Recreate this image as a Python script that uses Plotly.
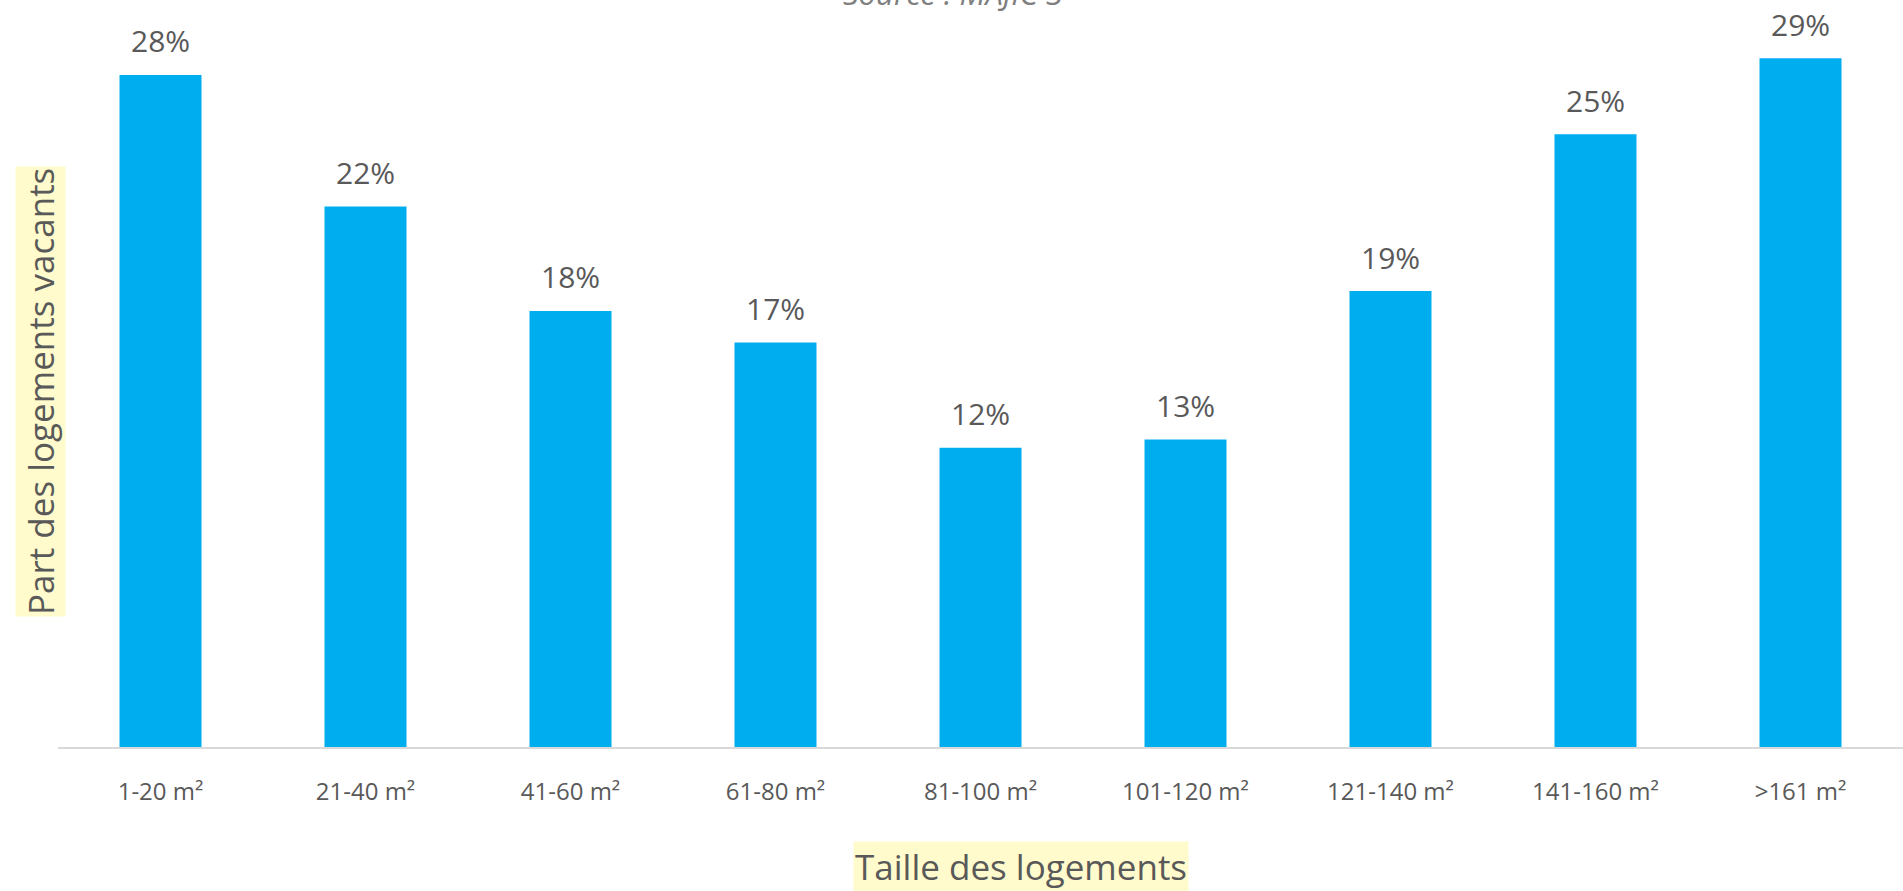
import plotly.graph_objects as go

categories = ["1-20 m²", "21-40 m²", "41-60 m²", "61-80 m²", "81-100 m²",
              "101-120 m²", "121-140 m²", "141-160 m²", ">161 m²"]
values = [27.77, 22.33, 18.02, 16.71, 12.37, 12.71, 18.84, 25.32, 28.46]
labels = ["28%", "22%", "18%", "17%", "12%", "13%", "19%", "25%", "29%"]

FONT = "Open Sans"
GREY = "#595959"

fig = go.Figure()
fig.add_trace(go.Bar(
    x=categories, y=values,
    marker=dict(color="#00AEEF", line=dict(width=0)),
    hoverinfo="skip",
))

annotations = []
for c, v, t in zip(categories, values, labels):
    annotations.append(dict(
        x=c, y=v, xref="x", yref="y", text=t, showarrow=False,
        xanchor="center", yanchor="middle", yshift=34,
        font=dict(family=FONT, size=30, color=GREY),
    ))

# y-axis title with highlight
annotations.append(dict(
    x=40, y=392, text="Part des logements vacants",
    showarrow=False, textangle=-90, bgcolor="#FFFBCC",
    xanchor="center", yanchor="middle",
    font=dict(family=FONT, size=35, color=GREY),
))
# x-axis title with highlight
annotations.append(dict(
    x=1021, y=866, text="Taille des logements", showarrow=False,
    xanchor="center", yanchor="middle",
    bgcolor="#FFFBCC", font=dict(family=FONT, size=35, color=GREY),
))
# source (partially cut at top)
annotations.append(dict(
    x=953, y=16, text="<i>Source : MAJIC 3</i>", showarrow=False,
    xanchor="center", yanchor="bottom",
    font=dict(family=FONT, size=31, color="#7f7f7f"),
))

# convert pixel-positioned annotations to paper coords
W, H = 1903, 891
L, R, T, B = 58, 0, 0, 144
pw, ph = W - L - R, H - T - B
for a in annotations:
    if a.get("xref") == "x":
        continue
    px, py = a["x"], a["y"]
    a["xref"] = "paper"
    a["yref"] = "paper"
    a["x"] = (px - L) / pw
    a["y"] = 1 - (py - T) / ph

fig.update_layout(
    width=W, height=H,
    margin=dict(l=L, r=R, t=T, b=B, pad=0),
    paper_bgcolor="white", plot_bgcolor="white",
    bargap=0.6,
    showlegend=False,
    annotations=annotations,
    xaxis=dict(
        showline=True, linecolor="#D9D9D9", linewidth=2,
        ticks="outside", ticklen=22, tickcolor="rgba(0,0,0,0)",
        tickfont=dict(family=FONT, size=24, color=GREY),
        showgrid=False, zeroline=False,
    ),
    yaxis=dict(range=[0, 747 / 24.2], visible=False, showgrid=False, zeroline=False),
)

fig.write_html("out.html", config={"displayModeBar": False})
